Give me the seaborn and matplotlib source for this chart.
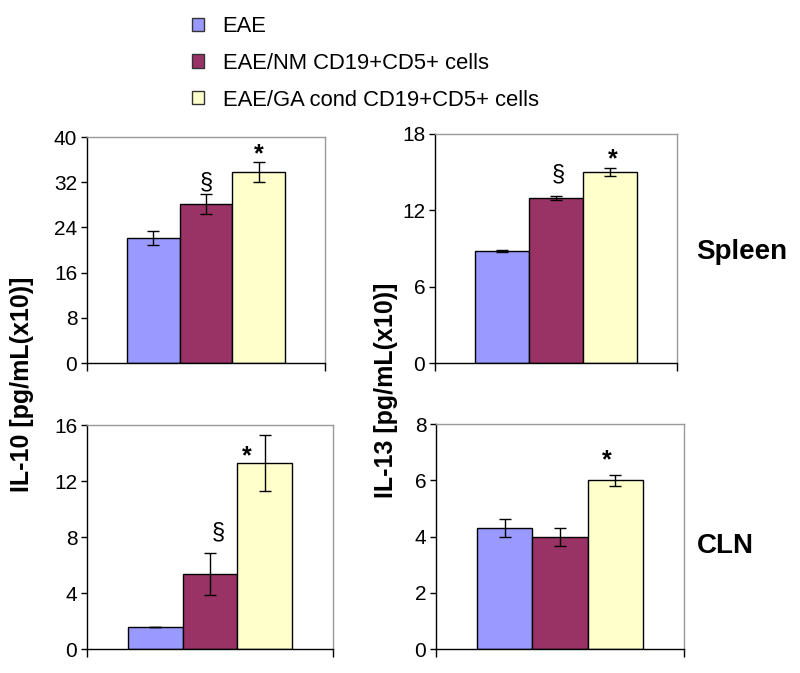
import numpy as np
import pandas as pd
import seaborn as sns
import matplotlib.pyplot as plt
from matplotlib.patches import Patch

# data
groups = ['EAE', 'EAE/NM CD19+CD5+ cells', 'EAE/GA cond CD19+CD5+ cells']
colors = ['#9999FF', '#993366', '#FFFFCC']

il10_spleen = [22.1, 28.1, 33.8]
il10_spleen_err = [1.2, 1.8, 1.8]
il13_spleen = [8.8, 13.0, 15.0]
il13_spleen_err = [0.1, 0.15, 0.3]
il10_cln = [1.6, 5.35, 13.3]
il10_cln_err = [0.0, 1.5, 2.0]
il13_cln = [4.3, 4.0, 6.0]
il13_cln_err = [0.31, 0.32, 0.19]

sns.set_style("ticks")
plt.rcParams['font.family'] = ['Liberation Sans', 'DejaVu Sans']
plt.rcParams['text.color'] = 'black'
plt.rcParams['xtick.color'] = 'black'
plt.rcParams['ytick.color'] = 'black'
plt.rcParams['axes.labelcolor'] = 'black'

fig = plt.figure(figsize=(8, 6.73), dpi=100)

panels = [
    # values, errors, ylim, yticks, axes rect, marks
    (il10_spleen, il10_spleen_err, 40, [0, 8, 16, 24, 32, 40],
     [0.10875, 0.4606, 0.2975, 0.3358], [('§', 1.0, 32.0), ('*', 2.0, 37.0)]),
    (il13_spleen, il13_spleen_err, 18, [0, 6, 12, 18],
     [0.54375, 0.4606, 0.3025, 0.3403], [('§', 1.05, 14.8), ('*', 2.05, 16.0)]),
    (il10_cln, il10_cln_err, 16, [0, 4, 8, 12, 16],
     [0.10875, 0.03566, 0.3075, 0.3328], [('§', 1.15, 8.3), ('*', 1.67, 13.8)]),
    (il13_cln, il13_cln_err, 8, [0, 2, 4, 6, 8],
     [0.545, 0.03566, 0.31, 0.3343], [('*', 1.85, 6.7)]),
]

for vals, errs, ymax, yticks, rect, marks in panels:
    ax = fig.add_axes(rect)
    df = pd.DataFrame({'group': groups, 'value': vals})
    sns.barplot(data=df, x='group', y='value', hue='group', palette=colors,
                saturation=1, width=1, edgecolor='black', linewidth=1,
                errorbar=None, legend=False, ax=ax)
    ax.errorbar(x=np.arange(3), y=vals, yerr=errs, fmt='none', ecolor='black',
                elinewidth=1, capsize=4, capthick=1)
    for txt, xx, yy in marks:
        if txt == '*':
            ax.text(xx, yy, txt, ha='center', va='center', fontsize=18, fontweight='bold')
        else:
            ax.text(xx, yy, txt, ha='center', va='center', fontsize=17)
    ax.set_xlim(-1.25, 3.25)
    ax.set_ylim(0, ymax)
    ax.set_yticks(yticks)
    ax.set_xticks([-1.25, 3.25])
    ax.set_xticklabels(['', ''])
    ax.set_xlabel('')
    ax.set_ylabel('')
    ax.tick_params(axis='y', labelsize=15, length=4, width=1, direction='out', pad=3)
    ax.tick_params(axis='x', length=6, width=1, direction='out')
    for side in ['top', 'right']:
        ax.spines[side].set_visible(True)
        ax.spines[side].set_color('#999999')
        ax.spines[side].set_linewidth(1)
    for side in ['left', 'bottom']:
        ax.spines[side].set_color('black')
        ax.spines[side].set_linewidth(1)

fig.text(22 / 800, 1 - 384 / 673, 'IL-10 [pg/mL(x10)]', rotation=90, ha='center',
         va='center', fontsize=18, fontweight='bold')
fig.text(386 / 800, 1 - 390 / 673, 'IL-13 [pg/mL(x10)]', rotation=90, ha='center',
         va='center', fontsize=18, fontweight='bold')
fig.text(696 / 800, 1 - 252 / 673, 'Spleen', ha='left', va='center', fontsize=20, fontweight='bold')
fig.text(697 / 800, 1 - 546 / 673, 'CLN', ha='left', va='center', fontsize=20, fontweight='bold')

handles = [Patch(facecolor=c, edgecolor='#333333', linewidth=1) for c in colors]
fig.legend(handles, groups, loc='upper left', bbox_to_anchor=(192 / 800, 1 - 16 / 673),
           frameon=False, fontsize=15.8, handlelength=0.55, handleheight=0.55,
           handletextpad=0.85, labelspacing=0.72, borderaxespad=0, borderpad=0)

plt.savefig('out.png', dpi=100)
